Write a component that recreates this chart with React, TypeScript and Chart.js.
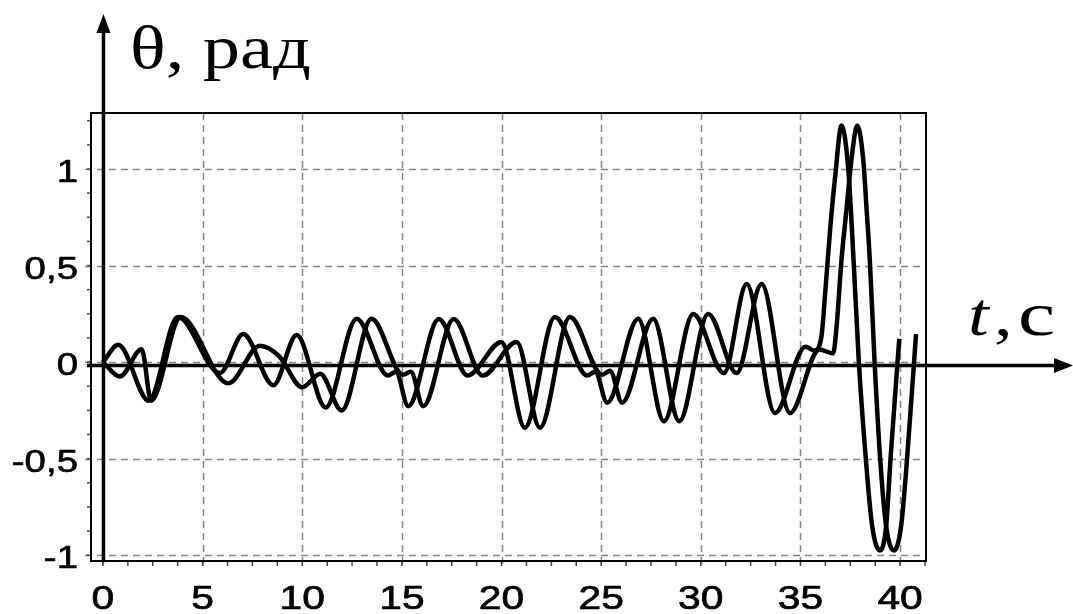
import { useEffect, useRef } from "react";
import { Chart, registerables } from "chart.js";

Chart.register(...registerables);

// First response curve: time, s and angle, rad
const timeA = [
  0, 0.77, 2.3, 3.75, 5.87, 7.04, 8.55, 9.72, 11.18, 12.73, 14.3, 14.7, 15.32,
  16.85, 18.3, 20.0, 21.17, 22.68, 24.3, 24.7, 25.3, 26.86, 28.15, 29.62, 31.16,
  32.3, 33.72, 35.25, 35.7, 36.05, 36.25, 36.5, 36.75, 37.06, 37.4, 37.68, 37.93,
  38.28, 38.6, 38.99, 39.3, 39.52, 39.87, 39.96,
];
const thetaA = [
  0, 0.09, -0.2, 0.233, -0.057, 0.145, -0.12, 0.14, -0.235, 0.225, -0.07, -0.05,
  -0.228, 0.223, -0.07, 0.104, -0.34, 0.233, -0.07, -0.05, -0.21, 0.225, -0.306,
  0.249, -0.057, 0.404, -0.264, 0.08, 0.06, 0.13, 0.37, 0.7, 0.97, 1.225, 1.0,
  0.5, 0, -0.5, -0.85, -0.975, -0.85, -0.5, 0, 0.12,
];

// Second response curve
const timeB = [
  0, 0.85, 1.94, 2.42, 3.9, 6.29, 7.88, 8.85, 10.0, 10.9, 11.98, 13.48, 15.05,
  15.45, 16.07, 17.6, 19.05, 20.76, 21.93, 23.43, 25.05, 25.45, 26.05, 27.61,
  28.92, 30.37, 31.8, 33.05, 34.47, 35.95, 36.64, 36.81, 37.06, 37.31, 37.56,
  37.85, 38.15, 38.32, 38.48, 38.72, 39.0, 39.3, 39.7, 40.05, 40.35, 40.7, 40.8,
];
const thetaB = [
  0, -0.075, 0.067, -0.2, 0.233, -0.11, 0.085, 0.03, -0.13, -0.06, -0.25, 0.225,
  -0.065, -0.05, -0.228, 0.223, -0.07, 0.104, -0.34, 0.233, -0.065, -0.045,
  -0.21, 0.225, -0.306, 0.249, -0.057, 0.404, -0.264, 0.065, 0.045, 0.18, 0.53,
  0.79, 1.05, 1.225, 1.05, 0.79, 0.53, 0, -0.5, -0.85, -0.975, -0.85, -0.5, 0,
  0.145,
];

const xTickValues = [0, 5, 10, 15, 20, 25, 30, 35, 40];
const xTickLabels = ["0", "5", "10", "15", "20", "25", "30", "35", "40"];
const yTickValues = [-1, -0.5, 0, 0.5, 1];
const yTickLabels = ["-1", "-0,5", "0", "0,5", "1"];

const X_MIN = -0.6;
const X_MAX = 41.3;
const Y_MIN = -1.03;
const Y_MAX = 1.29;
const X_MINOR = 1.25;
const Y_MINOR = 0.125;

const W = 1073;
const H = 614;
const TEXT_STRETCH = 1.2;

function drawText(
  ctx: CanvasRenderingContext2D,
  text: string,
  x: number,
  y: number,
  font: string,
  align: CanvasTextAlign,
  sx = TEXT_STRETCH,
  weight = 0
) {
  ctx.save();
  ctx.font = font;
  ctx.textAlign = align;
  ctx.textBaseline = "alphabetic";
  ctx.fillStyle = "#000";
  ctx.translate(x, y);
  ctx.scale(sx, 1);
  ctx.fillText(text, 0, 0);
  if (weight > 0) {
    ctx.strokeStyle = "#000";
    ctx.lineWidth = weight;
    ctx.lineJoin = "round";
    ctx.strokeText(text, 0, 0);
  }
  ctx.restore();
}

const framePlugin = {
  id: "frame",
  beforeDatasetsDraw(chart: any) {
    const { ctx, chartArea, scales } = chart;
    const xs = scales.x;
    const ys = scales.y;
    const { left, right, top, bottom } = chartArea;

    ctx.save();
    // dashed grid
    ctx.strokeStyle = "#858585";
    ctx.lineWidth = 1.5;
    ctx.setLineDash([7, 5]);
    for (const v of xTickValues) {
      const px = Math.round(xs.getPixelForValue(v)) + 0.5;
      ctx.beginPath();
      ctx.moveTo(px, top);
      ctx.lineTo(px, bottom + 6);
      ctx.stroke();
    }
    for (const v of yTickValues) {
      const py = Math.round(ys.getPixelForValue(v)) + 0.5;
      ctx.beginPath();
      ctx.moveTo(left - 6, py);
      ctx.lineTo(right, py);
      ctx.stroke();
    }
    ctx.setLineDash([]);

    // minor ticks
    ctx.strokeStyle = "#444";
    ctx.lineWidth = 1.5;
    for (let v = 0; v <= X_MAX + 1e-6; v += X_MINOR) {
      const px = xs.getPixelForValue(v);
      ctx.beginPath();
      ctx.moveTo(px, bottom);
      ctx.lineTo(px, bottom + 5);
      ctx.stroke();
    }
    for (let v = -1; v <= Y_MAX + 1e-6; v += Y_MINOR) {
      const py = ys.getPixelForValue(v);
      ctx.beginPath();
      ctx.moveTo(left - 4, py);
      ctx.lineTo(left, py);
      ctx.stroke();
    }

    // frame
    ctx.strokeStyle = "#000";
    ctx.lineWidth = 2;
    ctx.strokeRect(left, top, right - left, bottom - top);
    ctx.restore();

    // tick labels
    const tickFontY = "32px 'Liberation Sans', Arial, sans-serif";
    const tickFontX = "34px 'Liberation Sans', Arial, sans-serif";
    yTickValues.forEach((v, i) => {
      const py = ys.getPixelForValue(v);
      drawText(ctx, yTickLabels[i], left - 13, py + 13, tickFontY, "right", TEXT_STRETCH, 0.7);
    });
    xTickValues.forEach((v, i) => {
      const px = xs.getPixelForValue(v);
      drawText(ctx, xTickLabels[i], px, 609, tickFontX, "center", TEXT_STRETCH, 0.7);
    });
  },
  afterDatasetsDraw(chart: any) {
    const { ctx, chartArea, scales } = chart;
    const xs = scales.x;
    const ys = scales.y;
    const x0 = xs.getPixelForValue(0) + 0.5;
    const y0 = ys.getPixelForValue(0) + 3.5;

    ctx.save();
    ctx.strokeStyle = "#000";
    ctx.fillStyle = "#000";
    ctx.lineWidth = 3.5;
    ctx.lineCap = "butt";

    // vertical axis with arrow
    ctx.beginPath();
    ctx.moveTo(x0, chartArea.bottom);
    ctx.lineTo(x0, 30);
    ctx.stroke();
    ctx.beginPath();
    ctx.moveTo(x0, 14);
    ctx.lineTo(x0 - 7, 33);
    ctx.lineTo(x0 + 7, 33);
    ctx.closePath();
    ctx.fill();

    // horizontal axis with arrow
    ctx.beginPath();
    ctx.moveTo(chartArea.left - 4, y0);
    ctx.lineTo(1058, y0);
    ctx.stroke();
    ctx.beginPath();
    ctx.moveTo(1073, y0);
    ctx.lineTo(1054, y0 - 7.5);
    ctx.lineTo(1054, y0 + 7.5);
    ctx.closePath();
    ctx.fill();
    ctx.restore();

    // axis titles
    const serif = "'Liberation Serif', 'Times New Roman', serif";
    drawText(ctx, "θ, рад", 130, 68, `62px ${serif}`, "left");
    drawText(ctx, "t", 968, 335, `italic 62px ${serif}`, "left");
    drawText(ctx, ",", 994, 335, `62px ${serif}`, "left");
    drawText(ctx, "c", 1018, 335, `62px ${serif}`, "left", 1.35);
  },
};

function toPoints(ts: number[], vs: number[]) {
  return ts.map((t, i) => ({ x: t, y: vs[i] }));
}

export default function App() {
  const canvasRef = useRef<HTMLCanvasElement | null>(null);

  useEffect(() => {
    const canvas = canvasRef.current;
    if (!canvas) return;
    const chart = new Chart(canvas, {
      type: "line",
      data: {
        datasets: [
          {
            label: "θ1",
            data: toPoints(timeA, thetaA),
            borderColor: "#000",
            borderWidth: 4.5,
            pointRadius: 0,
            fill: false,
            cubicInterpolationMode: "monotone",
          },
          {
            label: "θ2",
            data: toPoints(timeB, thetaB),
            borderColor: "#000",
            borderWidth: 4.5,
            pointRadius: 0,
            fill: false,
            cubicInterpolationMode: "monotone",
          },
        ],
      },
      options: {
        animation: false,
        responsive: false,
        devicePixelRatio: 1,
        layout: {
          padding: { left: 91, right: W - 926, top: 113, bottom: H - 561 },
        },
        scales: {
          x: { type: "linear", min: X_MIN, max: X_MAX, display: false },
          y: { type: "linear", min: Y_MIN, max: Y_MAX, display: false },
        },
        plugins: {
          legend: { display: false },
          tooltip: { enabled: false },
        },
        events: [],
      },
      plugins: [framePlugin],
    });
    return () => chart.destroy();
  }, []);

  return (
    <div
      style={{
        position: "fixed",
        left: 0,
        top: 0,
        width: W,
        height: H,
        background: "#fff",
      }}
    >
      <canvas ref={canvasRef} width={W} height={H} style={{ display: "block" }} />
    </div>
  );
}
